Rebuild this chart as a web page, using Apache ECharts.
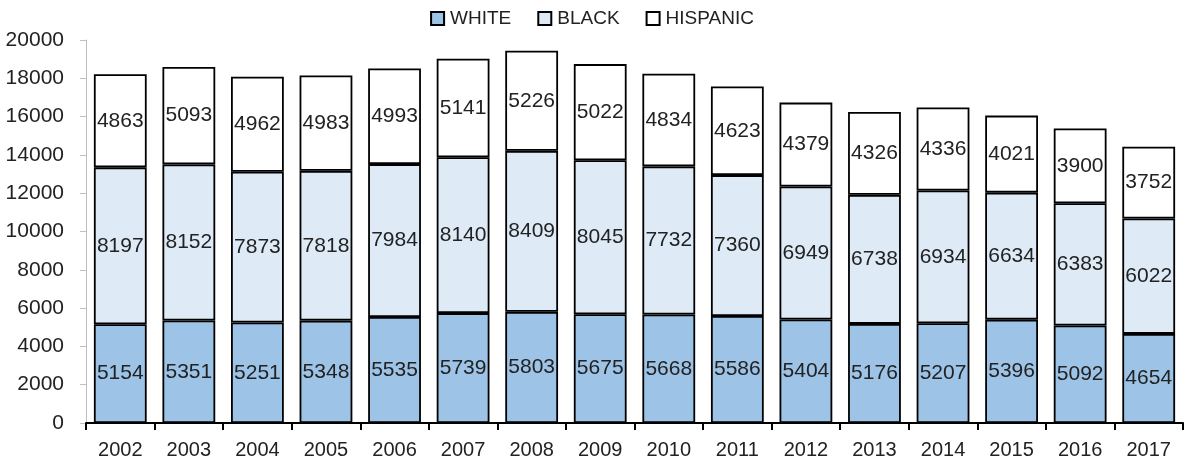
<!DOCTYPE html>
<html><head><meta charset="utf-8">
<script src="https://cdn.jsdelivr.net/npm/echarts@6/dist/echarts.min.js"></script>
<style>html,body{margin:0;padding:0;background:#fff}#c{width:1184px;height:469px}</style>
</head><body><div id="c"></div>
<script>
const years = ['2002','2003','2004','2005','2006','2007','2008','2009','2010','2011','2012','2013','2014','2015','2016','2017'];
const white = [5154,5351,5251,5348,5535,5739,5803,5675,5668,5586,5404,5176,5207,5396,5092,4654];
const black = [8197,8152,7873,7818,7984,8140,8409,8045,7732,7360,6949,6738,6934,6634,6383,6022];
const hispanic = [4863,5093,4962,4983,4993,5141,5226,5022,4834,4623,4379,4326,4336,4021,3900,3752];
const yTicks = [0,2000,4000,6000,8000,10000,12000,14000,16000,18000,20000];
const FONT = 'Liberation Sans';
const chart = echarts.init(document.getElementById('c'));
function mk(name, data, color){
  return {name, type:'bar', stack:'t', data, barCategoryGap:'23%',
    itemStyle:{color, borderColor:'#000', borderWidth:1.8},
    label:{show:true, position:'inside', color:'#222', fontFamily:FONT, fontSize:21},
    emphasis:{disabled:true}};
}
chart.setOption({
  animation:false,
  textStyle:{fontFamily:FONT},
  legend:{top:4, left:'center', itemWidth:13, itemHeight:13, itemGap:26,
    textStyle:{fontFamily:FONT, fontSize:19, color:'#222', padding:[0,0,0,1]},
    data:[{name:'WHITE',icon:'rect'},{name:'BLACK',icon:'rect'},{name:'HISPANIC',icon:'rect'}]},
  grid:{left:86, right:1, top:40, bottom:46},
  xAxis:{type:'category', data:years,
    axisLine:{lineStyle:{color:'#000', width:2}},
    axisTick:{show:true, length:7, lineStyle:{color:'#000', width:2}},
    axisLabel:{color:'#222', fontFamily:FONT, fontSize:20, margin:17}},
  yAxis:{type:'value', min:yTicks[0], max:yTicks[yTicks.length-1], interval:2000,
    splitLine:{show:false},
    axisLine:{show:true, lineStyle:{color:'#BFBFBF', width:1}},
    axisTick:{show:true, length:6, lineStyle:{color:'#BFBFBF'}},
    axisLabel:{color:'#222', fontFamily:FONT, fontSize:21, margin:22, formatter:v=>String(v)}},
  series:[mk('WHITE',white,'#9DC3E6'), mk('BLACK',black,'#DEEBF7'), mk('HISPANIC',hispanic,'#FFFFFF')]
});
</script></body></html>
